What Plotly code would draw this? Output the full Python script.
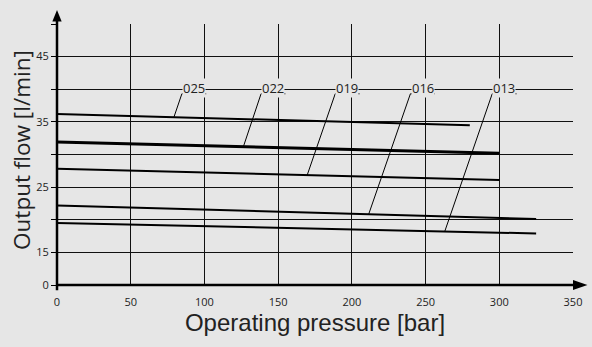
import numpy as np
import plotly.graph_objects as go

# ---- data ----
series_names = ["025", "022", "019", "016", "013"]
pressure_025 = [0, 280]
flow_025 = [36.2, 34.5]
pressure_022 = [0, 300]
flow_022 = [31.9, 30.2]
pressure_019 = [0, 300]
flow_019 = [27.8, 26.1]
pressure_016 = [0, 325]
flow_016 = [22.2, 20.1]
pressure_013 = [0, 325]
flow_013 = [19.5, 17.9]

x_ticks = [0, 50, 100, 150, 200, 250, 300, 350]
y_tickvals = [10, 15, 20, 25, 30, 35, 40, 45, 50]
y_ticktext = ["0", "15", "", "25", "", "35", "", "45", ""]

# label placement (pressure where leader meets the curve, underline start)
leader_x = [79.3, 126.4, 169.7, 211.4, 263.0]
label_x = [84.7, 138.4, 188.7, 239.7, 295.2]
label_y = 39.3
label_w = 16.5

BG = "#e6e6e6"
series = [
    (pressure_025, flow_025, 2),
    (pressure_022, flow_022, 3),
    (pressure_019, flow_019, 2),
    (pressure_016, flow_016, 2),
    (pressure_013, flow_013, 2),
]

fig = go.Figure()
for name, (px, fy, w) in zip(series_names, series):
    fig.add_trace(go.Scatter(x=px, y=fy, mode="lines", name=name,
                             line=dict(color="#000000", width=w),
                             showlegend=False, hoverinfo="skip"))

shapes = []
annotations = []
for name, (px, fy, w), lx, ux in zip(series_names, series, leader_x, label_x):
    ly = float(np.interp(lx, px, fy))
    shapes.append(dict(type="line", xref="x", yref="y", x0=lx, y0=ly, x1=ux, y1=label_y,
                       line=dict(color="#000", width=1)))
    shapes.append(dict(type="line", xref="x", yref="y", x0=ux, y0=label_y, x1=ux + label_w, y1=label_y,
                       line=dict(color="#000", width=1)))
    annotations.append(dict(x=ux + label_w / 2, y=label_y, xref="x", yref="y", text=name,
                            showarrow=False, yanchor="bottom", xanchor="center",
                            bgcolor=BG, borderpad=0, yshift=-4,
                            font=dict(family="Open Sans", size=13, color="#222")))

# y-axis title as rotated annotation
annotations.append(dict(x=-0.07, y=0.517, xref="paper", yref="paper", text="Output flow [l/min]",
                        textangle=-90, showarrow=False, xanchor="center", yanchor="middle",
                        font=dict(family="Open Sans", size=22.5, color="#222")))

# axis lines and arrows (paper coords)
shapes += [
    dict(type="line", xref="paper", yref="paper", x0=0, y0=-0.02, x1=0, y1=1.012,
         line=dict(color="#000", width=2.5)),
    dict(type="line", xref="paper", yref="paper", x0=0, y0=0, x1=1.0, y1=0,
         line=dict(color="#000", width=2.5)),
    dict(type="path", xref="paper", yref="paper",
         path="M 1.0 -0.019 L 1.028 0 L 1.0 0.019 Z", fillcolor="#000", line=dict(width=0)),
    dict(type="path", xref="paper", yref="paper",
         path="M -0.009 1.01 L 0 1.054 L 0.009 1.01 Z", fillcolor="#000", line=dict(width=0)),
]

fig.update_layout(
    width=592, height=347,
    margin=dict(l=57, r=19, t=24, b=62),
    paper_bgcolor=BG, plot_bgcolor=BG,
    shapes=shapes, annotations=annotations,
    xaxis=dict(range=[0, 350], tickvals=x_ticks, showgrid=True, gridcolor="#111", gridwidth=1,
               zeroline=False, showline=False, ticks="outside", ticklen=7, tickcolor=BG,
               automargin=False,
               tickfont=dict(family="Open Sans", size=11, color="#222"),
               title=dict(text="Operating pressure [bar]", standoff=4,
                          font=dict(family="Liberation Sans", size=24, color="#222"))),
    yaxis=dict(range=[10, 50], tickvals=y_tickvals, ticktext=y_ticktext, showgrid=True,
               gridcolor="#111", gridwidth=1, zeroline=False, showline=False,
               ticks="outside", ticklen=5, tickcolor="#000", automargin=False,
               tickfont=dict(family="Open Sans", size=11, color="#222")),
)

fig.write_html("out.html", config={"displayModeBar": False},
               post_script="document.body.style.margin='0';document.body.style.background='%s';" % BG)
